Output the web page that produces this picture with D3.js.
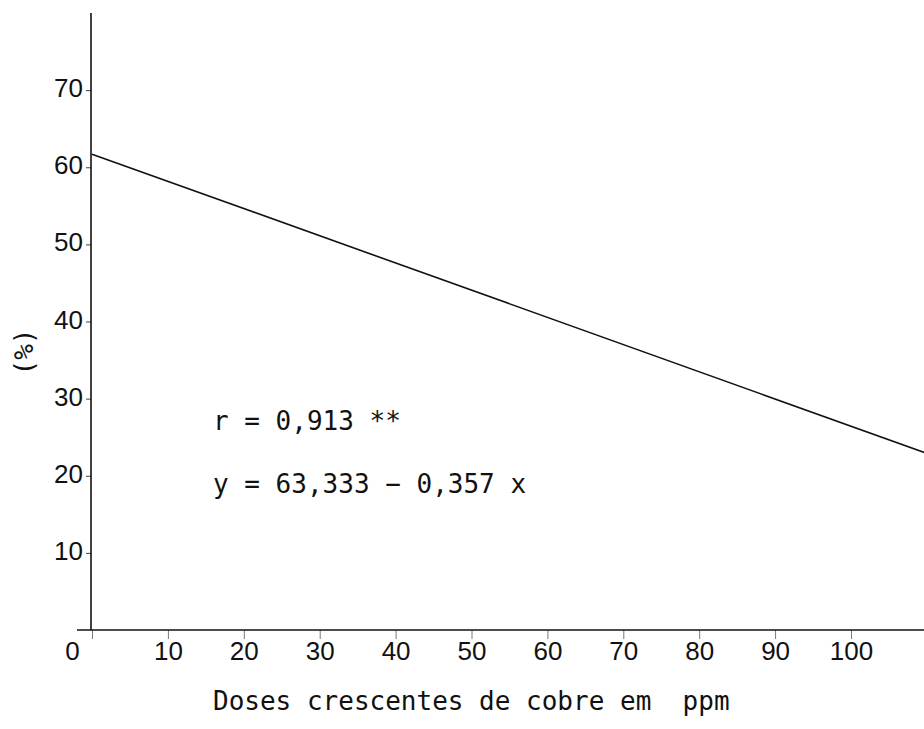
<!DOCTYPE html>
<html>
<head>
<meta charset="utf-8">
<script src="https://cdn.jsdelivr.net/npm/d3@7"></script>
<style>
  body { margin: 0; background: #fff; }
  svg { display: block; }
</style>
</head>
<body>
<svg></svg>
<script>
// Data
const doses = [0, 110];          // ppm of copper
const percent = [61.7, 22.9];    // fitted line (%)
const xTicks = [0, 10, 20, 30, 40, 50, 60, 70, 80, 90, 100];
const yTicks = [10, 20, 30, 40, 50, 60, 70];
const notes = ["r = 0,913 **", "y = 63,333 \u2212 0,357 x"];

const width = 924;
const height = 729;

const svg = d3.select("svg").attr("width", width).attr("height", height);

// Scales
const x = d3.scaleLinear().domain([0, 100]).range([92, 851]);
const y = d3.scaleLinear().domain([0, 80]).range([630, 13]);

const ink = "#111";
const mono = "'DejaVu Sans Mono', monospace";
const sans = "'Liberation Sans', Arial, sans-serif";

// X axis
const xAxis = svg
  .append("g")
  .attr("transform", `translate(0, ${y(0)})`)
  .call(d3.axisBottom(x).tickValues(xTicks).tickSize(9).tickPadding(3));
xAxis.select(".domain").remove();
xAxis
  .append("line")
  .attr("x1", 77)
  .attr("x2", width)
  .attr("stroke", ink)
  .attr("stroke-width", 1.6);
xAxis.selectAll(".tick line").attr("stroke", "#777").attr("stroke-width", 1);
xAxis
  .selectAll(".tick text")
  .attr("fill", ink)
  .style("font-family", sans)
  .style("font-size", "26px")
  .attr("dx", (d) => (d === 0 ? -20 : 0));

// Y axis
const yAxis = svg
  .append("g")
  .attr("transform", `translate(${x(0) - 1}, 0)`)
  .call(d3.axisLeft(y).tickValues(yTicks).tickSize(5).tickPadding(3));
yAxis.select(".domain").remove();
yAxis
  .append("line")
  .attr("y1", y(80))
  .attr("y2", y(0))
  .attr("stroke", ink)
  .attr("stroke-width", 1.6);
yAxis.selectAll(".tick line").attr("stroke", "#444").attr("stroke-width", 1);
yAxis
  .selectAll(".tick text")
  .attr("fill", ink)
  .attr("dy", "0.25em")
  .style("font-family", sans)
  .style("font-size", "26px");

// Y title
svg
  .append("text")
  .attr("transform", `translate(33, 352) rotate(-90)`)
  .attr("text-anchor", "middle")
  .attr("fill", ink)
  .style("font-family", mono)
  .style("font-size", "26px")
  .text("(%)");

// X title
svg
  .append("text")
  .attr("x", 213)
  .attr("y", 710)
  .attr("fill", ink)
  .attr("xml:space", "preserve")
  .style("white-space", "pre")
  .style("font-family", mono)
  .style("font-size", "26px")
  .text("Doses crescentes de cobre em  ppm");

// Regression line
const line = d3
  .line()
  .x((d) => x(d[0]))
  .y((d) => y(d[1]));

svg
  .append("path")
  .datum(d3.zip(doses, percent))
  .attr("d", line)
  .attr("fill", "none")
  .attr("stroke", ink)
  .attr("stroke-width", 1.6);

// Annotation
svg
  .selectAll(".note")
  .data(notes)
  .enter()
  .append("text")
  .attr("class", "note")
  .attr("x", 213)
  .attr("y", (d, i) => 430 + i * 63)
  .attr("fill", ink)
  .style("font-family", mono)
  .style("font-size", "26px")
  .text((d) => d);
</script>
</body>
</html>
